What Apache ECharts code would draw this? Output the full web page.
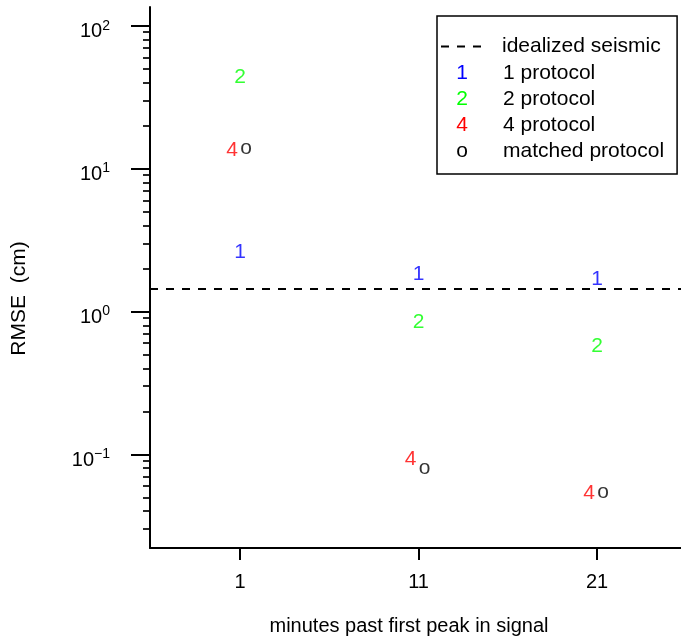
<!DOCTYPE html>
<html>
<head>
<meta charset="utf-8">
<script src="https://cdn.jsdelivr.net/npm/echarts@6/dist/echarts.min.js"></script>
<style>html,body{margin:0;padding:0;background:#fff;}#c{width:681px;height:644px;}</style>
</head>
<body>
<div id="c"></div>
<script>
// ---- data ----
var minutes = [1, 11, 21];
var protocol1 = [2.65, 1.86, 1.72];
var protocol2 = [44.6, 0.853, 0.582];
var protocol4 = [13.6, 0.0932, 0.0547];
var matched = [14.2, 0.0811, 0.0553];
var seismicLevel = [1.45];
var seriesNames = ['1 protocol', '2 protocol', '4 protocol', 'matched protocol'];
var seriesGlyphs = ['1', '2', '4', 'o'];
var seriesColors = ['#0000FF', '#00FF00', '#FF0000', '#000000'];
var xTickValues = [1, 11, 21];
var yTickValues = [0.1, 1, 10, 100];
var yTickExponents = ['\u22121', '0', '1', '2'];
var yMinorTicks = [0.03, 0.04, 0.05, 0.06, 0.07, 0.08, 0.09,
                   0.2, 0.3, 0.4, 0.5, 0.6, 0.7, 0.8, 0.9,
                   2, 3, 4, 5, 6, 7, 8, 9,
                   20, 30, 40, 50, 60, 70, 80, 90];

var FONT = 'Liberation Sans, Arial, Helvetica, sans-serif';
var Y_MIN = 0.02209, Y_MAX = 135.2;
var allValues = [protocol1, protocol2, protocol4, matched];
var glyphOffsets = [[0, 1], [0, 1], [-8, 1], [6, 1]];

var chart = echarts.init(document.getElementById('c'), null, {renderer: 'canvas'});

var scatterSeries = allValues.map(function (vals, i) {
  return {
    name: seriesNames[i],
    type: 'scatter',
    symbol: 'circle',
    symbolSize: 0,
    itemStyle: {color: seriesColors[i]},
    data: minutes.map(function (m, j) { return [m, vals[j]]; }),
    label: {
      show: true,
      position: 'inside',
      offset: glyphOffsets[i],
      formatter: seriesGlyphs[i],
      color: seriesColors[i],
      fontSize: 21,
      fontFamily: FONT
    },
    silent: true,
    z: 5
  };
});

var legendRich = {
  t: {fontSize: 21, fontFamily: FONT, color: '#000', lineHeight: 20, padding: [0, 0, 0, 21]}
};
seriesGlyphs.forEach(function (g, i) {
  legendRich['g' + i] = {fontSize: 21, fontFamily: FONT, color: seriesColors[i], width: 40, align: 'center', lineHeight: 20};
});

var option = {
  animation: false,
  backgroundColor: '#ffffff',
  grid: {left: 150, right: 0, top: 7, bottom: 96, containLabel: false},
  xAxis: {
    type: 'value',
    min: -4.04,
    max: 25.7,
    name: 'minutes past first peak in signal',
    nameLocation: 'middle',
    nameGap: 68,
    nameTextStyle: {fontSize: 20, fontFamily: FONT, color: '#000', padding: [0, 13, 0, 0]},
    axisLine: {show: true, onZero: false, lineStyle: {color: '#000', width: 2}},
    axisTick: {show: true, customValues: xTickValues, length: 12, lineStyle: {color: '#000', width: 2}},
    axisLabel: {customValues: xTickValues, margin: 24, fontSize: 20, fontFamily: FONT, color: '#000'},
    splitLine: {show: false}
  },
  yAxis: [{
    type: 'log',
    logBase: 10,
    min: Y_MIN,
    max: Y_MAX,
    name: 'RMSE  (cm)',
    nameLocation: 'middle',
    nameGap: 120,
    nameRotate: 90,
    nameTextStyle: {fontSize: 21, fontFamily: FONT, color: '#000', padding: [0, 42, 0, 0]},
    axisLine: {show: true, onZero: false, lineStyle: {color: '#000', width: 2}},
    axisTick: {show: true, customValues: yTickValues, length: 19, lineStyle: {color: '#000', width: 2}},
    axisLabel: {
      customValues: yTickValues,
      margin: 40,
      padding: [12, 0, 0, 0],
      formatter: function (v) {
        var k = -1;
        for (var i = 0; i < yTickValues.length; i++) {
          if (Math.abs(Math.log10(yTickValues[i]) - Math.log10(v)) < 1e-6) k = i;
        }
        return '{b|10}{e|' + (k >= 0 ? yTickExponents[k] : '') + '}';
      },
      rich: {
        b: {fontSize: 20, fontFamily: FONT, color: '#000', lineHeight: 20, verticalAlign: 'bottom'},
        e: {fontSize: 14, fontFamily: FONT, color: '#000', lineHeight: 14, padding: [0, 0, 9, 0], verticalAlign: 'bottom'}
      }
    },
    splitLine: {show: false}
  }, {
    type: 'log',
    logBase: 10,
    min: Y_MIN,
    max: Y_MAX,
    position: 'left',
    axisLine: {show: false, onZero: false},
    axisTick: {show: true, customValues: yMinorTicks, length: 7, lineStyle: {color: '#000', width: 1.7}},
    axisLabel: {show: false},
    splitLine: {show: false}
  }],
  legend: [{
    data: [{name: 'idealized seismic', icon: 'path://M0,0h8v2h-8zM16,0h8v2h-8zM32,0h8v2h-8z'}],
    orient: 'vertical',
    left: 441,
    top: 36,
    padding: 0,
    itemWidth: 40,
    itemHeight: 2,
    selectedMode: false,
    z: 10,
    itemStyle: {color: '#000', borderWidth: 0},
    formatter: '{t|{name}}',
    textStyle: {
      fontSize: 21, fontFamily: FONT, color: '#000',
      rich: {t: {fontSize: 21, fontFamily: FONT, color: '#000', lineHeight: 20, padding: [0, 0, 0, 16]}}
    }
  }, {
    data: seriesNames.map(function (n) { return {name: n, icon: 'none'}; }),
    orient: 'vertical',
    left: 437,
    top: 16,
    padding: [47, 13, 12, 0],
    itemWidth: 0,
    itemHeight: 14,
    itemGap: 5,
    selectedMode: false,
    borderColor: '#000',
    borderWidth: 1.5,
    borderRadius: 0,
    backgroundColor: '#fff',
    z: 8,
    formatter: function (name) {
      var i = seriesNames.indexOf(name);
      return '{g' + i + '|' + seriesGlyphs[i] + '}{t|' + name + '}';
    },
    textStyle: {fontSize: 21, fontFamily: FONT, color: '#000', rich: legendRich}
  }],
  series: [{
    name: 'idealized seismic',
    type: 'line',
    data: [],
    symbol: 'none',
    lineStyle: {color: '#000', width: 2, type: [8, 8]},
    itemStyle: {color: '#000'},
    markLine: {
      silent: true,
      symbol: 'none',
      label: {show: false},
      lineStyle: {color: '#000', width: 2, type: [8, 8]},
      data: seismicLevel.map(function (v) { return {yAxis: v}; })
    }
  }].concat(scatterSeries)
};
chart.setOption(option);
</script>
</body>
</html>
